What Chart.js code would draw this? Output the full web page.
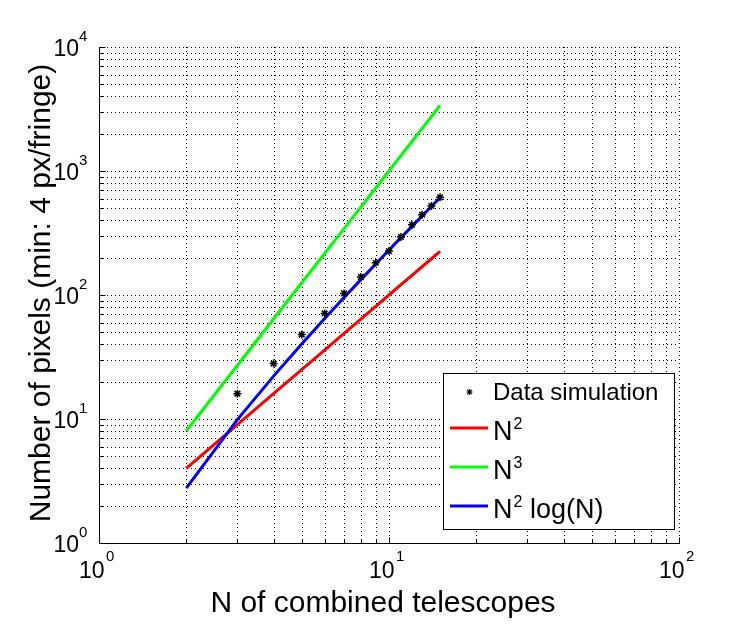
<!DOCTYPE html>
<html><head><meta charset="utf-8">
<script src="https://cdn.jsdelivr.net/npm/chart.js@4"></script>
<style>html,body{margin:0;padding:0;background:#fff;}canvas{display:block;}</style>
</head><body>
<canvas id="c" width="750" height="624"></canvas>
<script>
// ---- data ----
const telescopesN   = [2, 3, 4, 5, 6, 7, 8, 9, 10, 11, 12, 13, 14, 15];
const pixelsN2      = [4, 9, 16, 25, 36, 49, 64, 81, 100, 121, 144, 169, 196, 225];
const pixelsN3      = [8, 27, 64, 125, 216, 343, 512, 729, 1000, 1331, 1728, 2197, 2744, 3375];
const pixelsN2logN  = [2.77, 9.89, 22.18, 40.24, 64.50, 95.35, 133.08, 177.97, 230.26, 290.15, 357.83, 433.47, 517.27, 609.43];
const simulationN      = [3, 4, 5, 6, 7, 8, 9, 10, 11, 12, 13, 14, 15];
const simulationPixels = [16, 28, 48, 71, 103, 140, 182, 226, 294, 368, 444, 522, 614];

const xGridValues = [1,2,3,4,5,6,7,8,9,10,20,30,40,50,60,70,80,90,100];
const yGridValues = [1,2,3,4,5,6,7,8,9,10,20,30,40,50,60,70,80,90,100,
                     200,300,400,500,600,700,800,900,1000,2000,3000,4000,5000,6000,7000,8000,9000,10000];
const xTickExponents = [0, 1, 2];
const yTickExponents = [0, 1, 2, 3, 4];

const legendBase = ['Data simulation', 'N', 'N', 'N'];
const legendSup  = ['', '2', '3', '2'];
const legendTail = ['', '', '', ' log(N)'];
const seriesColors = ['#000000', '#ff0000', '#00ff00', '#0000ff'];

const xTitle = 'N of combined telescopes';
const yTitle = 'Number of pixels (min: 4 px/fringe)';

// ---- helpers ----
const FONT = '"Liberation Sans", Arial, Helvetica, sans-serif';
const toXY = (xs, ys) => xs.map((v, i) => ({x: v, y: ys[i]}));
const crisp = v => Math.round(v) + 0.5;

function drawStar(ctx, cx, cy, r, lw) {
  ctx.save();
  ctx.strokeStyle = '#000';
  ctx.lineWidth = lw;
  ctx.beginPath();
  ctx.moveTo(cx - r, cy); ctx.lineTo(cx + r, cy);
  ctx.moveTo(cx, cy - r); ctx.lineTo(cx, cy + r);
  const d = r * 0.72;
  ctx.moveTo(cx - d, cy - d); ctx.lineTo(cx + d, cy + d);
  ctx.moveTo(cx - d, cy + d); ctx.lineTo(cx + d, cy - d);
  ctx.stroke();
  ctx.restore();
}

const matlabPlugin = {
  id: 'matlabLook',
  beforeDraw(chart) {
    const ctx = chart.ctx;
    ctx.save();
    ctx.fillStyle = '#fff';
    ctx.fillRect(0, 0, chart.width, chart.height);
    ctx.restore();
  },
  beforeDatasetsDraw(chart) {
    const {ctx, chartArea: a, scales: {x, y}} = chart;
    ctx.save();
    // dotted grid
    ctx.strokeStyle = '#000';
    ctx.lineWidth = 1;
    ctx.setLineDash([1, 3]);
    xGridValues.forEach(v => {
      const X = crisp(x.getPixelForValue(v));
      ctx.beginPath(); ctx.moveTo(X, a.top); ctx.lineTo(X, a.bottom); ctx.stroke();
    });
    yGridValues.forEach(v => {
      const Y = crisp(y.getPixelForValue(v));
      ctx.beginPath(); ctx.moveTo(a.left, Y); ctx.lineTo(a.right, Y); ctx.stroke();
    });
    ctx.setLineDash([]);
    // solid left and bottom axes
    const L = crisp(a.left), B = crisp(a.bottom);
    ctx.beginPath();
    ctx.moveTo(L, Math.round(a.top)); ctx.lineTo(L, B); ctx.lineTo(Math.round(a.right) + 1, B);
    ctx.stroke();
    // inward tick marks
    xGridValues.forEach(v => {
      const X = crisp(x.getPixelForValue(v));
      const len = Number.isInteger(Math.log10(v)) ? 6 : 4;
      ctx.beginPath(); ctx.moveTo(X, B); ctx.lineTo(X, B - len); ctx.stroke();
    });
    yGridValues.forEach(v => {
      const Y = crisp(y.getPixelForValue(v));
      const len = Number.isInteger(Math.log10(v)) ? 6 : 4;
      ctx.beginPath(); ctx.moveTo(L, Y); ctx.lineTo(L + len, Y); ctx.stroke();
    });
    // tick labels (10 with superscript exponent)
    ctx.fillStyle = '#000';
    ctx.textBaseline = 'alphabetic';
    yTickExponents.forEach(e => {
      const ty = y.getPixelForValue(Math.pow(10, e));
      ctx.font = '23px ' + FONT;
      ctx.textAlign = 'right';
      ctx.fillText('10', 79, ty + 9);
      ctx.font = '15px ' + FONT;
      ctx.textAlign = 'left';
      ctx.fillText(String(e), 79, ty - 6);
    });
    xTickExponents.forEach(e => {
      const tx = x.getPixelForValue(Math.pow(10, e));
      ctx.font = '23px ' + FONT;
      ctx.textAlign = 'left';
      ctx.fillText('10', tx - 20, 578);
      ctx.font = '15px ' + FONT;
      ctx.fillText(String(e), tx + 7, 561);
    });
    // axis titles
    ctx.font = '30px ' + FONT;
    ctx.textAlign = 'center';
    ctx.fillText(xTitle, 383, 612);
    ctx.save();
    ctx.translate(50, 293);
    ctx.rotate(-Math.PI / 2);
    ctx.fillText(yTitle, 0, 0);
    ctx.restore();
    ctx.restore();
  },
  afterDatasetsDraw(chart) {
    const ctx = chart.ctx;
    ctx.save();
    // legend box
    ctx.fillStyle = '#fff';
    ctx.fillRect(443, 373, 231, 156);
    ctx.strokeStyle = '#000';
    ctx.lineWidth = 1;
    ctx.strokeRect(443.5, 373.5, 231, 156);
    const rowY = [392, 428, 467, 506];
    ctx.fillStyle = '#000';
    ctx.textAlign = 'left';
    ctx.textBaseline = 'alphabetic';
    legendBase.forEach((base, i) => {
      const ly = rowY[i];
      if (i === 0) {
        drawStar(ctx, 469.5, ly, 3, 1.2);
        ctx.font = '24px ' + FONT;
        ctx.fillText(base, 493, ly + 8);
        return;
      }
      ctx.strokeStyle = seriesColors[i];
      ctx.lineWidth = 3;
      ctx.beginPath(); ctx.moveTo(450, ly); ctx.lineTo(488, ly); ctx.stroke();
      let tx = 493;
      ctx.font = '27px ' + FONT;
      ctx.fillText(base, tx, ly + 12);
      tx += ctx.measureText(base).width + 1;
      ctx.font = '16px ' + FONT;
      ctx.fillText(legendSup[i], tx, ly + 1);
      tx += ctx.measureText(legendSup[i]).width;
      if (legendTail[i]) {
        ctx.font = '27px ' + FONT;
        ctx.fillText(legendTail[i], tx, ly + 12);
      }
    });
    ctx.restore();
  }
};

new Chart(document.getElementById('c'), {
  type: 'line',
  data: {
    datasets: [
      { label: 'Data simulation', data: toXY(simulationN, simulationPixels), showLine: false,
        pointStyle: 'star', pointRadius: 4, borderColor: seriesColors[0], backgroundColor: seriesColors[0],
        pointBorderWidth: 1.5, order: 0 },
      { label: 'N^2', data: toXY(telescopesN, pixelsN2), borderColor: seriesColors[1], borderWidth: 3,
        pointRadius: 0, fill: false, order: 3 },
      { label: 'N^3', data: toXY(telescopesN, pixelsN3), borderColor: seriesColors[2], borderWidth: 3,
        pointRadius: 0, fill: false, order: 2 },
      { label: 'N^2 log(N)', data: toXY(telescopesN, pixelsN2logN), borderColor: seriesColors[3], borderWidth: 3,
        pointRadius: 0, fill: false, order: 1 }
    ]
  },
  options: {
    responsive: false,
    animation: false,
    devicePixelRatio: 1,
    layout: { padding: { left: 99, right: 71, top: 47, bottom: 81 } },
    plugins: { legend: { display: false }, tooltip: { enabled: false } },
    scales: {
      x: { type: 'logarithmic', min: 1, max: 100, display: false },
      y: { type: 'logarithmic', min: 1, max: 10000, display: false }
    }
  },
  plugins: [matlabPlugin]
});
</script>
</body></html>
